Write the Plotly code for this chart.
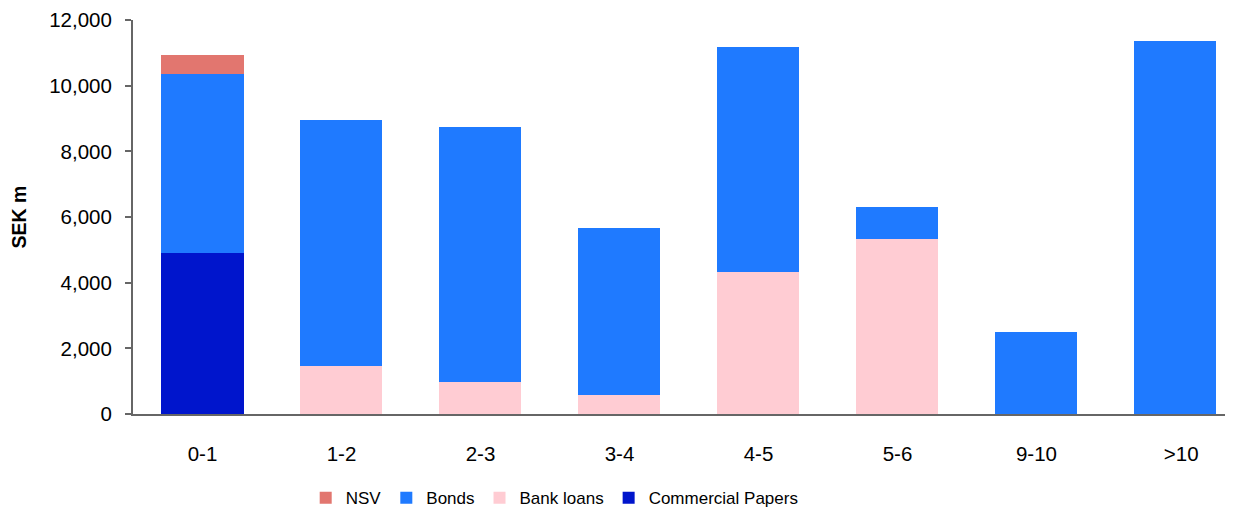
import plotly.graph_objects as go

categories = ["0-1", "1-2", "2-3", "3-4", "4-5", "5-6", "9-10", ">10"]
tick_labels = ["0-1", "1-2", "2-3", "3-4", "4-5", "5-6", "9-10", "\u00a0\u00a0>10"]
commercial_papers = [4890, 0, 0, 0, 0, 0, 0, 0]
bank_loans = [0, 1450, 980, 590, 4330, 5340, 0, 0]
bonds = [5480, 7510, 7770, 5080, 6840, 950, 2500, 11370]
nsv = [570, 0, 0, 0, 0, 0, 0, 0]

FONT = "Liberation Sans, Arial, sans-serif"

fig = go.Figure()
fig.add_trace(go.Bar(name="Commercial Papers", x=categories, y=commercial_papers,
                     marker=dict(color="#0015CC", line=dict(width=0))))
fig.add_trace(go.Bar(name="Bank loans", x=categories, y=bank_loans,
                     marker=dict(color="#FFCCD3", line=dict(width=0))))
fig.add_trace(go.Bar(name="Bonds", x=categories, y=bonds,
                     marker=dict(color="#1F7AFF", line=dict(width=0))))
fig.add_trace(go.Bar(name="NSV", x=categories, y=nsv,
                     marker=dict(color="#E2766F", line=dict(width=0))))

# page has an 8px body margin, so the figure is sized 8px smaller
fig.update_layout(
    barmode="stack",
    bargap=0.41,
    width=1225, height=503,
    margin=dict(l=125, r=0, t=12, b=97, autoexpand=False),
    paper_bgcolor="white", plot_bgcolor="white",
    font=dict(family=FONT, color="#000000", size=20),
    showlegend=True,
    legend=dict(orientation="h", traceorder="reversed",
                x=0.157, xanchor="left", y=-0.168, yanchor="top",
                font=dict(size=17, family=FONT), itemclick=False,
                bgcolor="rgba(0,0,0,0)"),
    xaxis=dict(
        type="category", automargin=False,
        range=[-0.5, 7.414],
        tickmode="array", tickvals=categories, ticktext=tick_labels,
        showline=True, linecolor="#666666", linewidth=2,
        ticks="outside", ticklen=20, tickcolor="rgba(0,0,0,0)",
        showgrid=False, zeroline=False,
        tickfont=dict(size=20.5, family=FONT),
    ),
    yaxis=dict(
        range=[0, 12000], automargin=False,
        tickvals=[0, 2000, 4000, 6000, 8000, 10000, 12000],
        tickformat=",",
        showline=True, linecolor="#666666", linewidth=2,
        ticks="outside", ticklen=6, tickcolor="#666666", tickwidth=2,
        ticklabelstandoff=9,
        showgrid=False, zeroline=False,
        tickfont=dict(size=20.5, family=FONT),
        title=dict(text="<b>SEK m</b>", font=dict(size=19.5, family=FONT), standoff=30),
    ),
)

fig.write_html("out.html")
